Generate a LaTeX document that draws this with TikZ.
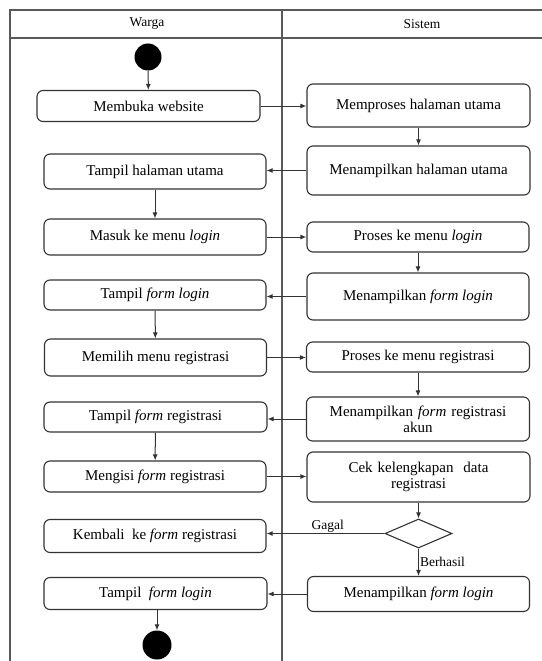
\documentclass[tikz,border=0pt]{standalone}
\usepackage{fontspec}
\setmainfont{Liberation Serif}
\usetikzlibrary{shapes.geometric,arrows.meta}
\definecolor{lanecol}{gray}{0.35}
\definecolor{boxcol}{gray}{0.2}
\tikzset{
  act/.style={draw=boxcol, line width=1.1pt, rounded corners=6pt, align=center,
    inner sep=2pt, font=\fontsize{15}{16}\selectfont},
  flow/.style={draw=boxcol, line width=1pt, -{Latex[length=6pt,width=5pt]}},
  dot/.style={circle, fill=black, inner sep=0pt},
  lane/.style={draw=lanecol, line width=1.4pt},
  lbl/.style={font=\fontsize{13.5}{14}\selectfont, inner sep=1pt}
}
\begin{document}
\begin{tikzpicture}[x=1pt,y=-1pt]
\useasboundingbox (0,0) rectangle (541,661);
% swimlanes
\draw[lane] (10,661) -- (10,10) -- (545,10);
\draw[lane] (10,38) -- (545,38);
\draw[lane] (282,10) -- (282,661);
\node[lbl] (hw) at (147,24) {Warga};
\node[lbl] (hs) at (422,24) {Sistem};
% nodes
\node[dot, minimum size=27pt] (start) at (148,57) {};
\node[act, minimum width=223pt, minimum height=31pt] (a1) at (148.5,106) {Membuka website};
\node[act, minimum width=223pt, minimum height=43pt] (b1) at (418.5,105.5) {Memproses halaman utama};
\node[act, minimum width=223pt, minimum height=49pt] (b2) at (418.5,170.5) {Menampilkan halaman utama};
\node[act, minimum width=222pt, minimum height=35pt] (a2) at (155,171.5) {Tampil halaman utama};
\node[act, minimum width=222pt, minimum height=36pt] (a3) at (155,237) {Masuk ke menu \textit{login}};
\node[act, minimum width=222pt, minimum height=30pt] (b3) at (418,237) {Proses ke menu \textit{login}};
\node[act, minimum width=222pt, minimum height=47pt] (b4) at (418,296.5) {Menampilkan \textit{form login}};
\node[act, minimum width=222pt, minimum height=30pt] (a4) at (155,295) {Tampil \textit{form login}};
\node[act, minimum width=222pt, minimum height=37pt] (a5) at (155.5,357.5) {Memilih menu registrasi};
\node[act, minimum width=223pt, minimum height=30pt] (b5) at (418,357) {Proses ke menu registrasi};
\node[act, minimum width=223pt, minimum height=44pt, text width=205pt] (b6) at (418,419) {Menampilkan \textit{form} registrasi\\akun};
\node[act, minimum width=223pt, minimum height=30pt] (a6) at (155.5,417) {Tampil \textit{form} registrasi};
\node[act, minimum width=222pt, minimum height=31pt] (a7) at (155,476.5) {Mengisi \textit{form} registrasi};
\node[act, minimum width=223pt, minimum height=50pt, text width=205pt] (b7) at (418.5,477) {Cek kelengkapan\ \ data\\registrasi};
\node[diamond, draw=boxcol, line width=1.1pt, minimum width=67pt, minimum height=29pt, inner sep=0pt] (d) at (418.5,533.5) {};
\node[act, minimum width=222pt, minimum height=33pt] (a8) at (155,536) {Kembali\ \ ke \textit{form} registrasi};
\node[act, minimum width=223pt, minimum height=32pt] (a9) at (155.5,593.5) {Tampil\ \ \textit{form login}};
\node[act, minimum width=222pt, minimum height=35pt] (b8) at (418.5,594) {Menampilkan \textit{form login}};
\node[dot, minimum size=29pt] (end) at (157,645) {};
% connectors
\draw[flow] (start) -- (a1);
\draw[flow] (a1.east) -- (a1.east -| b1.west);
\draw[flow] (b1) -- (b2);
\draw[flow] (b2.west) -- (b2.west -| a2.east);
\draw[flow] (a2) -- (a3);
\draw[flow] (a3.east) -- (a3.east -| b3.west);
\draw[flow] (b3) -- (b4);
\draw[flow] (b4.west) -- (b4.west -| a4.east);
\draw[flow] (a4) -- (a5);
\draw[flow] (a5.east) -- (a5.east -| b5.west);
\draw[flow] (b5) -- (b6);
\draw[flow] (b6.west) -- (b6.west -| a6.east);
\draw[flow] (a6) -- (a7);
\draw[flow] (a7.east) -- (a7.east -| b7.west);
\draw[flow] (b7) -- (d);
\draw[flow] (d.west) -- (d.west -| a8.east) node[lbl, pos=0.48, above] {Gagal};
\draw[flow] (d) -- (b8) node[lbl, midway, right] {Berhasil};
\draw[flow] (b8.west) -- (b8.west -| a9.east);
\draw[flow] (a9.south -| end) -- (end);
\end{tikzpicture}
\end{document}
